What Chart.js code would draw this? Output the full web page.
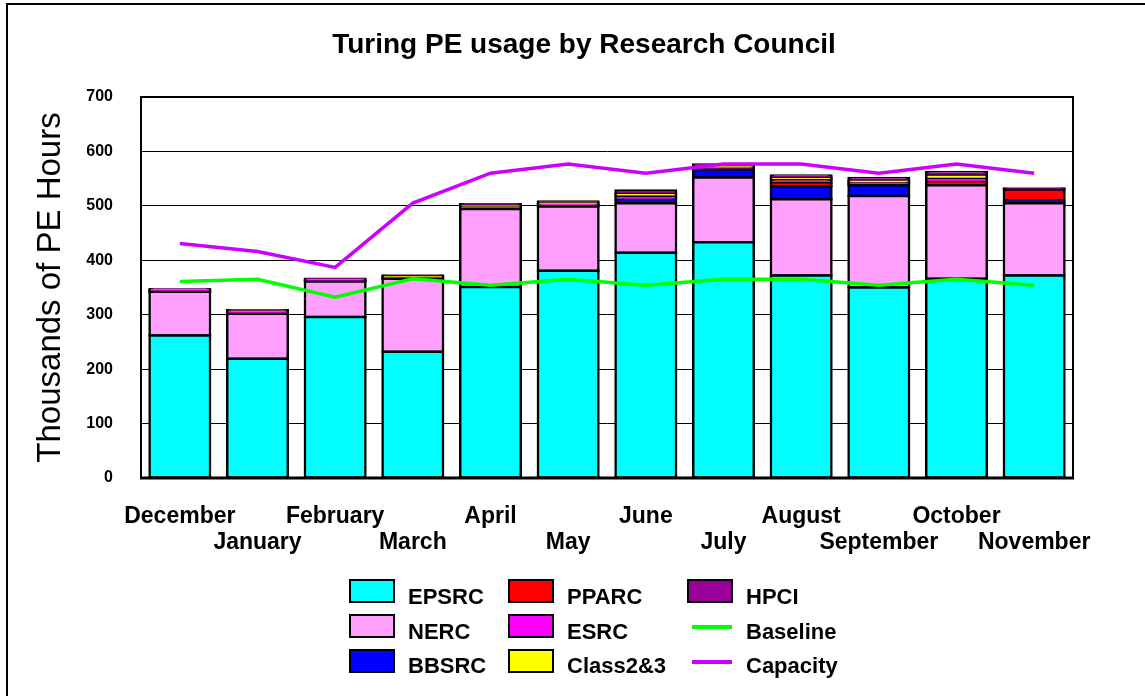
<!DOCTYPE html>
<html>
<head>
<meta charset="utf-8">
<script src="https://cdn.jsdelivr.net/npm/chart.js@4/dist/chart.umd.min.js"></script>
<style>
  html, body { margin: 0; padding: 0; background: #fff; }
</style>
</head>
<body>
<canvas id="myChart" width="1145" height="696"></canvas>
<script>
// months on the x axis
const months = ["December", "January", "February", "March", "April", "May",
                "June", "July", "August", "September", "October", "November"]

// stacked usage per research council (thousands of PE hours)
const epsrc  = [262, 219, 296, 232, 351, 381, 414, 433, 372, 350, 366, 372]
const nerc   = [80, 83, 65, 134, 143, 118, 91, 119, 140, 168, 172, 133]
const bbsrc  = [0, 0, 0, 0, 0, 0, 6, 15, 24, 20, 0, 5]
const pparc  = [0, 0, 0, 0, 0, 0, 0, 0, 6, 0, 6, 20]
const esrc   = [2, 2, 2, 2, 3, 3, 6, 3, 5, 4, 6, 1]
const class23 = [1, 2, 1, 2, 3, 3, 5, 3, 4, 4, 6, 0]
const hpci   = [2, 2, 2, 2, 3, 3, 6, 3, 5, 5, 6, 1]

// reference lines
const baseline = [361, 365, 332, 366, 354, 365, 354, 365, 365, 354, 365, 354]
const capacity = [431, 416, 387, 505, 560, 577, 560, 577, 577, 560, 577, 560]

const yTicks = [0, 100, 200, 300, 400, 500, 600, 700]

function barSet(label, data, color) {
    return {
        type: 'bar',
        label: label,
        data: data,
        backgroundColor: color,
        borderColor: '#000',
        borderWidth: 2.5,
        borderSkipped: false,
        inflateAmount: 1.25,
        barPercentage: 0.78,
        categoryPercentage: 1,
        stack: 'usage',
        order: 2
    }
}

function lineSet(label, data, color) {
    return {
        type: 'line',
        label: label,
        data: data,
        borderColor: color,
        backgroundColor: color,
        borderWidth: 3.5,
        pointRadius: 0,
        tension: 0,
        fill: false,
        stack: label, // lines must not pile on top of each other
        order: 1
    }
}

// title, frame around the plot and the outer box
const decorations = {
    id: 'decorations',
    beforeDatasetsDraw(chart) {
        const { ctx, chartArea: a } = chart
        ctx.save()
        ctx.strokeStyle = '#000'
        ctx.lineWidth = 2
        ctx.strokeRect(a.left, a.top, a.right - a.left, a.bottom - a.top)
        ctx.restore()
    },
    afterDraw(chart) {
        const { ctx, chartArea: a } = chart
        ctx.save()
        ctx.strokeStyle = '#000'
        ctx.lineWidth = 3
        ctx.beginPath()
        ctx.moveTo(a.left - 1, a.bottom)
        ctx.lineTo(a.right + 1, a.bottom)
        ctx.stroke()

        ctx.lineWidth = 2
        ctx.strokeRect(7, 4, 1200, 800)

        ctx.fillStyle = '#000'
        ctx.font = 'bold 28px Arial, "Liberation Sans", sans-serif'
        ctx.textAlign = 'center'
        ctx.textBaseline = 'middle'
        ctx.fillText('Turing PE usage by Research Council', 584, 45)
        ctx.restore()
    }
}

// legend in three columns, column by column
const gridLegend = {
    id: 'gridLegend',
    afterDraw(chart) {
        const { ctx } = chart
        const colBox = [350, 509, 688]
        const colText = [408, 567, 746]
        const rowBox = [580, 615, 650]
        const rowText = [604, 639, 673]
        ctx.save()
        ctx.font = 'bold 22px Arial, "Liberation Sans", sans-serif'
        ctx.textAlign = 'left'
        ctx.textBaseline = 'alphabetic'
        chart.data.datasets.forEach((ds, i) => {
            const c = Math.floor(i / 3)
            const r = i % 3
            if (ds.type === 'bar') {
                ctx.fillStyle = ds.backgroundColor
                ctx.fillRect(colBox[c], rowBox[r], 44, 22)
                ctx.strokeStyle = '#000'
                ctx.lineWidth = 2
                ctx.strokeRect(colBox[c], rowBox[r], 44, 22)
            } else {
                ctx.strokeStyle = ds.borderColor
                ctx.lineWidth = 4
                ctx.beginPath()
                ctx.moveTo(colBox[c] + 4, rowBox[r] + 12)
                ctx.lineTo(colBox[c] + 44, rowBox[r] + 12)
                ctx.stroke()
            }
            ctx.fillStyle = '#000'
            ctx.fillText(ds.label, colText[c], rowText[r])
        })
        ctx.restore()
    }
}

const chart = document.getElementById('myChart').getContext('2d')

new Chart(chart, {
    data: {
        labels: months,
        datasets: [
            barSet('EPSRC', epsrc, '#00FFFF'),
            barSet('NERC', nerc, '#FFA0FF'),
            barSet('BBSRC', bbsrc, '#0000FF'),
            barSet('PPARC', pparc, '#FF0000'),
            barSet('ESRC', esrc, '#FF00FF'),
            barSet('Class2&3', class23, '#FFFF00'),
            barSet('HPCI', hpci, '#990099'),
            lineSet('Baseline', baseline, '#00FF00'),
            lineSet('Capacity', capacity, '#CC00FF')
        ]
    },
    options: {
        responsive: false,
        devicePixelRatio: 1,
        animation: false,
        layout: {
            padding: { top: 97, right: 72, bottom: 0, left: 0 }
        },
        plugins: {
            legend: { display: false },
            title: { display: false },
            tooltip: { enabled: false }
        },
        scales: {
            x: {
                stacked: true,
                grid: { display: false, drawTicks: false },
                border: { display: false },
                ticks: {
                    autoSkip: false,
                    maxRotation: 0,
                    minRotation: 0,
                    padding: 26,
                    color: '#000',
                    font: { family: 'Arial, "Liberation Sans", sans-serif', size: 23, weight: 'bold', lineHeight: '26px' },
                    callback: function (value, index) {
                        const l = this.getLabelForValue(value)
                        return index % 2 ? ['', l] : l
                    }
                },
                afterFit: function (scale) { scale.height = 218 }
            },
            y: {
                stacked: true,
                min: 0,
                max: 700,
                afterBuildTicks: function (scale) {
                    scale.ticks = yTicks.map(v => ({ value: v }))
                },
                grid: { color: '#000', lineWidth: 1, drawTicks: false },
                border: { display: true, color: '#000', width: 2 },
                ticks: {
                    padding: 28,
                    color: '#000',
                    font: { family: 'Arial, "Liberation Sans", sans-serif', size: 16, weight: 'bold' }
                },
                title: {
                    display: true,
                    text: 'Thousands of PE Hours',
                    color: '#000',
                    padding: { top: 31, bottom: 0 },
                    font: { family: 'Arial, "Liberation Sans", sans-serif', size: 33, weight: 'normal' }
                },
                afterFit: function (scale) { scale.width = 141 }
            }
        }
    },
    plugins: [decorations, gridLegend]
})
</script>
</body>
</html>
